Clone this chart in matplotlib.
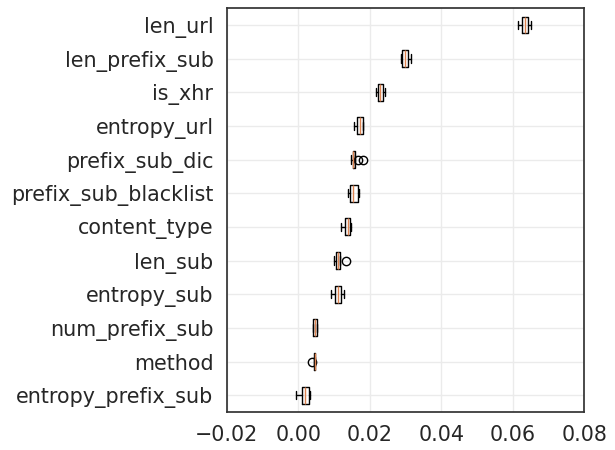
import matplotlib
matplotlib.use("Agg")
import matplotlib.pyplot as plt
import seaborn as sns

# feature names, top to bottom as shown
features = ["len_url", "len_prefix_sub", "is_xhr", "entropy_url", "prefix_sub_dic",
            "prefix_sub_blacklist", "content_type", "len_sub", "entropy_sub",
            "num_prefix_sub", "method", "entropy_prefix_sub"]

# importance samples per feature
len_url = [0.0616, 0.0627, 0.0635, 0.0642, 0.0650]
len_prefix_sub = [0.0288, 0.0290, 0.0300, 0.0308, 0.0315]
is_xhr = [0.0218, 0.0222, 0.0229, 0.0236, 0.0242]
entropy_url = [0.0157, 0.0164, 0.0174, 0.0180, 0.0180]
prefix_sub_dic = [0.0147, 0.0150, 0.0152, 0.0153, 0.0154, 0.0155, 0.0156, 0.0158, 0.0168, 0.0181]
prefix_sub_blacklist = [0.0140, 0.0145, 0.0154, 0.0166, 0.0170]
content_type = [0.0121, 0.0130, 0.0140, 0.0145, 0.0148]
len_sub = [0.0099, 0.0105, 0.0111, 0.0116, 0.0135]
entropy_sub = [0.0093, 0.0102, 0.0111, 0.0120, 0.0128]
num_prefix_sub = [0.0041, 0.0042, 0.0047, 0.0052, 0.0053]
method = [0.0038, 0.0044, 0.0046, 0.0047, 0.0048]
entropy_prefix_sub = [-0.0005, 0.0010, 0.0018, 0.0029, 0.0032]

samples = [len_url, len_prefix_sub, is_xhr, entropy_url, prefix_sub_dic,
           prefix_sub_blacklist, content_type, len_sub, entropy_sub,
           num_prefix_sub, method, entropy_prefix_sub]

sns.set_theme(style="whitegrid", font_scale=1.35)
plt.rcParams["axes.edgecolor"] = "0.2"
plt.rcParams["grid.color"] = "0.92"

fig = plt.figure(figsize=(6.15, 4.5), dpi=100)
ax = fig.add_axes([0.3686, 0.0844, 0.5814, 0.8976])

ax.boxplot(samples[::-1], orientation="horizontal", tick_labels=features[::-1])
ax.set_xlim(-0.02, 0.08)
ax.set_xticks([-0.02, 0.00, 0.02, 0.04, 0.06, 0.08])
ax.set_xticklabels(["\u22120.02", "0.00", "0.02", "0.04", "0.06", "0.08"])

fig.savefig("out.png")
